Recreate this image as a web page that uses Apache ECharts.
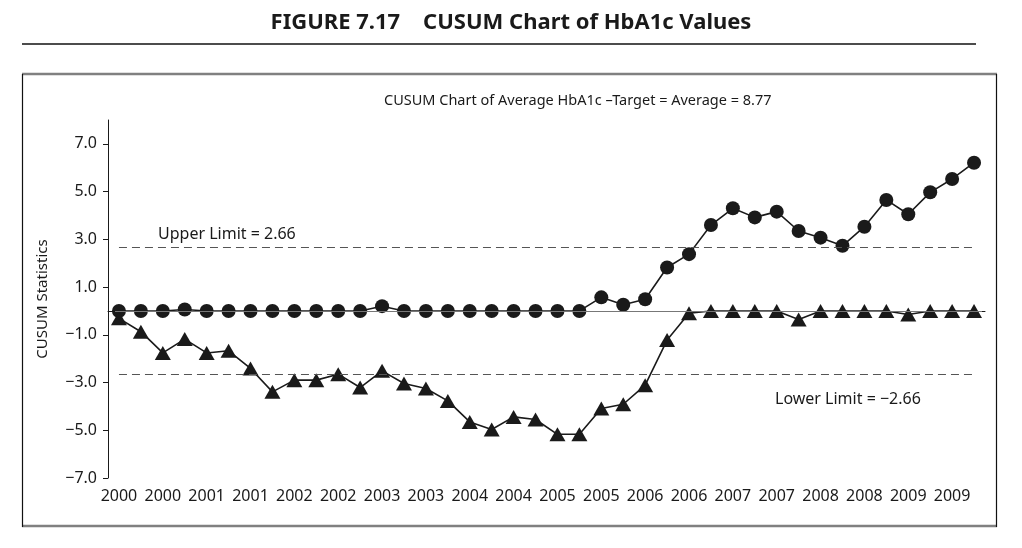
<!DOCTYPE html>
<html>
<head>
<meta charset="utf-8">
<script src="https://cdn.jsdelivr.net/npm/echarts@6/dist/echarts.min.js"></script>
<style>
  html, body { margin: 0; padding: 0; background: #fff; }
  #chart { width: 1022px; height: 548px; }
</style>
</head>
<body>
<div id="chart"></div>
<script>
    // quarters 2000 - 2009, labelled by year
    var quarters = [
        '2000', '2000', '2000', '2000', '2001', '2001', '2001', '2001',
        '2002', '2002', '2002', '2002', '2003', '2003', '2003', '2003',
        '2004', '2004', '2004', '2004', '2005', '2005', '2005', '2005',
        '2006', '2006', '2006', '2006', '2007', '2007', '2007', '2007',
        '2008', '2008', '2008', '2008', '2009', '2009', '2009', '2009'
    ];
    // upper CUSUM (circles)
    var upperCusum = [
        0, 0, 0, 0.06, 0, 0, 0, 0, 0, 0,
        0, 0, 0.2, 0, 0, 0, 0, 0, 0, 0,
        0, 0, 0.57, 0.26, 0.49, 1.82, 2.38, 3.60, 4.30, 3.92,
        4.16, 3.35, 3.07, 2.73, 3.53, 4.65, 4.05, 4.97, 5.53, 6.21
    ];
    // lower CUSUM (triangles)
    var lowerCusum = [
        -0.31, -0.87, -1.76, -1.18, -1.76, -1.67, -2.41, -3.39, -2.90, -2.90,
        -2.65, -3.21, -2.51, -3.04, -3.25, -3.77, -4.65, -4.97, -4.44, -4.55,
        -5.17, -5.17, -4.09, -3.91, -3.11, -1.22, -0.1, 0, 0, 0,
        0, -0.36, 0, 0, 0, 0, -0.15, 0, 0, 0
    ];
    var upperLimit = 2.66;
    var lowerLimit = -2.66;
    var yTicks = [-7, -5, -3, -1, 1, 3, 5, 7];

    var font = 'Noto Sans';
    var ink = '#1a1a1a';

    function fmt(v) {
        var s = Math.abs(v).toFixed(1);
        return v < 0 ? '\u2212' + s : s;
    }

    var chart = echarts.init(document.getElementById('chart'));

    var limitLine = function (val) {
        return [
            { coord: [0, val] },
            { coord: [quarters.length - 1, val] }
        ];
    };

    chart.setOption({
        animation: false,
        textStyle: { fontFamily: font, color: ink },
        title: {
            text: 'FIGURE 7.17    CUSUM Chart of HbA1c Values',
            left: 'center',
            top: 7,
            textStyle: { fontFamily: font, fontSize: 22, fontWeight: 'bold', color: ink }
        },
        graphic: [
            // rule under the figure title
            { type: 'line', shape: { x1: 22, y1: 44, x2: 976, y2: 44 }, style: { stroke: '#111', lineWidth: 1.5 } },
            // frame
            { type: 'line', shape: { x1: 22, y1: 74, x2: 997, y2: 74 }, style: { stroke: '#808080', lineWidth: 2.5 } },
            { type: 'line', shape: { x1: 22, y1: 526, x2: 997, y2: 526 }, style: { stroke: '#808080', lineWidth: 2.5 } },
            { type: 'line', shape: { x1: 22.5, y1: 74, x2: 22.5, y2: 527 }, style: { stroke: '#111', lineWidth: 1.2 } },
            { type: 'line', shape: { x1: 996.5, y1: 74, x2: 996.5, y2: 527 }, style: { stroke: '#111', lineWidth: 1.2 } },
            {
                type: 'text', left: 384, top: 93,
                style: { text: 'CUSUM Chart of Average HbA1c \u2013Target = Average = 8.77', font: '14.5px "' + font + '"', fill: ink }
            },
            {
                type: 'text', left: 158, top: 226,
                style: { text: 'Upper Limit = 2.66', font: '16px "' + font + '"', fill: ink }
            },
            {
                type: 'text', left: 775, top: 391,
                style: { text: 'Lower Limit = \u22122.66', font: '16px "' + font + '"', fill: ink }
            }
        ],
        grid: { left: 108, right: 37, top: 120, bottom: 70 },
        xAxis: {
            type: 'category',
            data: quarters,
            boundaryGap: true,
            axisLine: { lineStyle: { color: ink, width: 1 } },
            axisTick: { interval: 0, length: 5, lineStyle: { color: ink } },
            axisLabel: { interval: 1, fontSize: 16, color: ink, margin: 10, fontFamily: font }
        },
        yAxis: {
            type: 'value',
            min: -7,
            max: 8,
            name: 'CUSUM Statistics',
            nameLocation: 'middle',
            nameGap: 58,
            nameTextStyle: { fontSize: 15, color: ink, fontFamily: font },
            splitLine: { show: false },
            axisLine: { show: true, lineStyle: { color: ink, width: 1 } },
            axisTick: { show: true, length: 5, lineStyle: { color: ink }, customValues: yTicks },
            axisLabel: { fontSize: 16, color: ink, margin: 11, fontFamily: font, customValues: yTicks, formatter: fmt }
        },
        series: [
            {
                name: 'Upper CUSUM',
                type: 'line',
                data: upperCusum,
                symbol: 'circle',
                symbolSize: 14,
                z: 3,
                lineStyle: { color: ink, width: 1.6 },
                itemStyle: { color: ink },
                markLine: {
                    silent: true,
                    symbol: 'none',
                    label: { show: false },
                    data: [
                        limitLine(upperLimit),
                        limitLine(lowerLimit)
                    ],
                    lineStyle: { color: '#555', type: [8, 5], width: 1.2 }
                }
            },
            {
                name: 'Lower CUSUM',
                type: 'line',
                data: lowerCusum,
                symbol: 'triangle',
                symbolSize: [16, 14],
                z: 3,
                lineStyle: { color: ink, width: 1.6 },
                itemStyle: { color: ink },
                markLine: {
                    silent: true,
                    symbol: 'none',
                    label: { show: false },
                    data: [
                        [{ coord: [0, 0], x: 115 }, { coord: [quarters.length - 1, 0], x: 982 }]
                    ],
                    lineStyle: { color: '#777', type: 'solid', width: 1.2 }
                }
            }
        ]
    });
</script>
</body>
</html>
